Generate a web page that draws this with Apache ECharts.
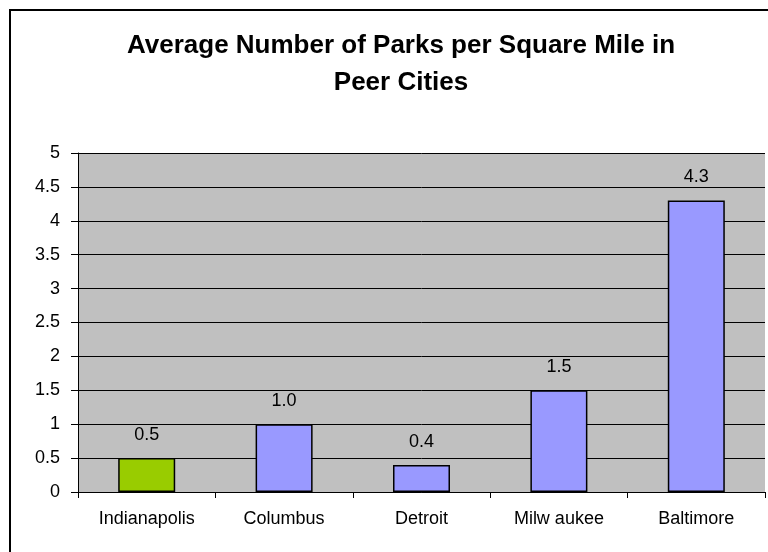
<!DOCTYPE html>
<html>
<head>
<meta charset="utf-8">
<script src="https://cdn.jsdelivr.net/npm/echarts@6/dist/echarts.min.js"></script>
<style>html,body{margin:0;padding:0;background:#fff}#c{width:768px;height:552px}</style>
</head>
<body>
<div id="c"></div>
<script>
var categories = ['Indianapolis', 'Columbus', 'Detroit', 'Milw aukee', 'Baltimore'];
var values = [0.5, 1.0, 0.4, 1.5, 4.3];
var barColors = ['#99CC00', '#9999FF', '#9999FF', '#9999FF', '#9999FF'];
var titleText = 'Average Number of Parks per Square Mile in\nPeer Cities';

var FONT = '"Liberation Sans", Arial, sans-serif';
var chart = echarts.init(document.getElementById('c'), null, {renderer: 'canvas'});
chart.setOption({
  animation: false,
  backgroundColor: '#ffffff',
  title: {
    text: titleText,
    left: 396, top: 22, textAlign: 'center',
    textStyle: {fontFamily: FONT, fontSize: 26, fontWeight: 'bold', color: '#000', lineHeight: 37}
  },
  graphic: [{
    type: 'rect', shape: {x: 10, y: 10, width: 800, height: 600},
    style: {fill: 'none', stroke: '#000', lineWidth: 2}, silent: true, z: 100
  }],
  grid: {left: 78, right: 3, top: 153, bottom: 60, show: true, backgroundColor: '#C0C0C0', borderWidth: 0},
  xAxis: {
    type: 'category', data: categories,
    axisLine: {lineStyle: {color: '#000', width: 1}},
    axisTick: {show: true, length: 6, lineStyle: {color: '#000'}},
    axisLabel: {fontFamily: FONT, fontSize: 18, color: '#000', margin: 18}
  },
  yAxis: {
    type: 'value', min: 0, max: 5, interval: 0.5,
    axisLine: {show: true, lineStyle: {color: '#000', width: 1}},
    axisTick: {show: true, length: 7, lineStyle: {color: '#000'}},
    axisLabel: {fontFamily: FONT, fontSize: 18, color: '#000', margin: 18},
    splitLine: {show: true, lineStyle: {color: '#000', width: 1}}
  },
  series: [{
    type: 'bar', barWidth: 57,
    data: values.map(function (v, i) {
      return {value: v, itemStyle: {color: barColors[i], borderColor: '#000', borderWidth: 1.5}};
    }),
    label: {
      show: true, position: 'top', distance: 14,
      fontFamily: FONT, fontSize: 18, color: '#000',
      formatter: function (p) { return p.value.toFixed(1); }
    }
  }]
});
</script>
</body>
</html>
